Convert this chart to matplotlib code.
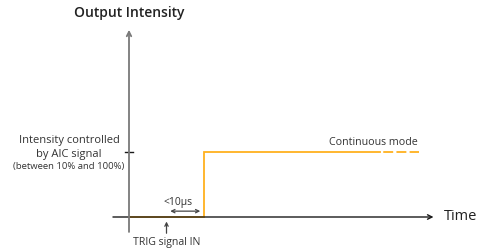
import matplotlib.pyplot as plt

plt.rcParams['font.family'] = ['Open Sans', 'DejaVu Sans']

# signal data (time in arbitrary µs-like units, intensity normalised)
t_solid = [0, 5, 5, 16.73]
i_solid = [0, 0, 1, 1]
t_dashed = [16.73, 19.33]
i_dashed = [1, 1]
t_trig = 2.5
t_delay = [2.75, 4.75]
i_level = 1

orange = '#FFB11F'
txt = '#333333'

fig = plt.figure(figsize=(4.93, 2.5), dpi=100)
ax = fig.add_axes([0, 0, 1, 1])
ax.set_xlim(-129 / 15, 364 / 15)
ax.set_ylim(-33 / 65, 217 / 65)
ax.axis('off')

# axes arrows
ax.annotate('', xy=(20.3, 0), xytext=(-1.07, 0),
            arrowprops=dict(arrowstyle='->', color='#1a1a1a', lw=1.0,
                            shrinkA=0, shrinkB=0, mutation_scale=8))
ax.annotate('', xy=(0, 2.88), xytext=(0, -0.23),
            arrowprops=dict(arrowstyle='->', color='#7a7a7a', lw=1.3,
                            shrinkA=0, shrinkB=0, mutation_scale=8))
ax.plot([-0.27, 0.27], [i_level, i_level], color='#1a1a1a', lw=1.0)

# signal
ax.plot(t_solid, i_solid, color=orange, lw=1.3, solid_joinstyle='miter')
ax.plot(t_dashed, i_dashed, color=orange, lw=1.3,
        linestyle=(5.5, (5.5, 1.8)))

# delay arrow
ax.annotate('', xy=(t_delay[1], 0.09), xytext=(t_delay[0], 0.09),
            arrowprops=dict(arrowstyle='<->', color='#444444', lw=0.9,
                            shrinkA=0, shrinkB=0, mutation_scale=6))
ax.text(3.3, 0.23, '<10µs', ha='center', va='center',
        fontsize=7.5, color=txt)

# trigger arrow
ax.annotate('', xy=(t_trig, -0.07), xytext=(t_trig, -0.25),
            arrowprops=dict(arrowstyle='->', color='#444444', lw=0.9,
                            shrinkA=0, shrinkB=0, mutation_scale=6))
ax.text(t_trig, -0.3, 'TRIG signal IN', ha='center', va='top',
        fontsize=7.6, color=txt)

# labels
ax.text(0, 3.14, 'Output Intensity', ha='center', va='center',
        fontsize=10, fontweight='semibold', color='#222222')
ax.text(21.0, 0, 'Time', ha='left', va='center', fontsize=10.5,
        color='#222222')
ax.text(16.3, 1.14, 'Continuous mode', ha='center', va='center',
        fontsize=7.7, color=txt)
ax.text(-4, 1.17, 'Intensity controlled', ha='center', va='center',
        fontsize=8, color=txt)
ax.text(-4, 0.96, 'by AIC signal', ha='center', va='center',
        fontsize=8, color=txt)
ax.text(-4, 0.78, '(between 10% and 100%)', ha='center', va='center',
        fontsize=6.8, color=txt)

fig.savefig('out.png', dpi=100)
